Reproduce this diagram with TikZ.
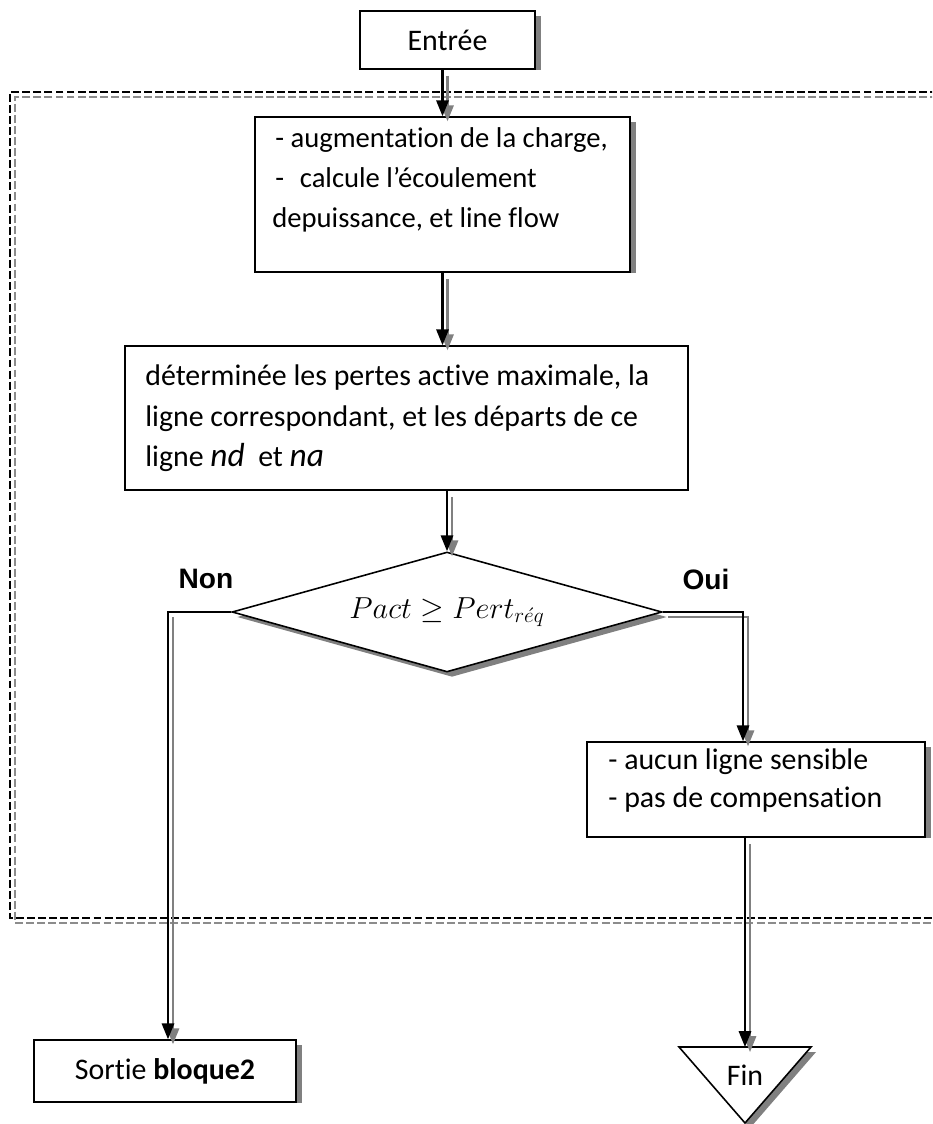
\documentclass[tikz,border=0pt]{standalone}
\usepackage{fontspec}
\setmainfont{Carlito}[Ligatures=NoCommon]
\newfontfamily\labelfont{Liberation Sans}
\usetikzlibrary{arrows.meta,shapes.geometric,shadows,calc}

\begin{document}
\begin{tikzpicture}[x=0.02cm,y=-0.02cm,
  box/.style={draw, line width=0.9pt, fill=white, inner sep=0pt, rectangle},
  body/.style={font=\fontsize{17}{22}\selectfont},
  line/.style={body, inner sep=0pt, anchor=base west},
  smallline/.style={line, font=\fontsize{16.3}{22}\selectfont},
  link/.style={line width=1.2pt, black, -{Triangle[length=9pt,width=7pt]}},
  linkshadow/.style={line width=1.2pt, black!50, -{Triangle[length=9pt,width=7pt]}},
  frame/.style={line width=1.3pt, dash pattern=on 4.5pt off 1.8pt},
  shade/.style={fill=black!50},
  answer/.style={font=\labelfont\bfseries\fontsize{16}{19}\selectfont}]

\useasboundingbox (0,0) rectangle (932,1124);

% dashed frame of the loop (runs off the right edge)
\begin{scope}
  \clip (0,0) rectangle (932,1124);
  \draw[frame, black] (960,92) -- (10,92) -- (10,918) -- (960,918);
  \draw[frame, black!45] (960,97) -- (15,97) -- (15,923) -- (960,923);
\end{scope}

% boxes
\node[box, body, minimum width=3.5cm, minimum height=1.16cm] (e) at (447.5,40) {Entrée};
\fill[shade] ($(e.north east)+(0,6)$) rectangle ($(e.south east)+(5,0)$);

\node[box, minimum width=7.5cm, minimum height=3.1cm] (b2) at (442.5,194.5) {};
\fill[shade] ($(b2.north east)+(0,6)$) rectangle ($(b2.south east)+(5,0)$);
\node[smallline] (b2a) at (275,148) {- augmentation de la charge,};
\node[smallline] (b2b) at (275,188) {-\hspace{0.55em}calcule l’écoulement};
\node[smallline] (b2c) at (272,228) {depuissance, et line flow};

\node[box, minimum width=11.26cm, minimum height=2.88cm] (b3) at (406.5,418) {};
\node[line] (b3a) at (145,386) {déterminée les pertes active maximale, la};
\node[line] (b3b) at (145,426) {ligne correspondant, et les départs de ce};
\node[line] (b3c) at (145,466) {ligne {\fontsize{19}{22}\selectfont\itshape nd}\ \ et {\fontsize{19}{22}\selectfont\itshape na}};

% decision
\node[diamond, draw, line width=0.9pt, fill=white, aspect=3.5, inner sep=0pt,
      minimum width=8.6cm, minimum height=2.4cm,
      general shadow={fill=black!50, shadow xshift=0.1cm, shadow yshift=-0.1cm},
      font=\fontsize{17}{20}\selectfont] (d) at (447,612) {$Pact \geq Pert_{r\acute{e}q}$};
\node[answer] (non) at (206,579) {Non};
\node[answer] (oui) at (706,579) {Oui};

\node[box, minimum width=6.76cm, minimum height=1.9cm] (b4) at (756,789.5) {};
\fill[shade] ($(b4.north east)+(0,6)$) rectangle ($(b4.south east)+(5,0)$);
\node[line] (b4a) at (608,769) {- aucun ligne sensible};
\node[line] (b4b) at (608,807) {- pas de compensation};

\node[box, body, minimum width=5.24cm, minimum height=1.24cm] (s) at (165,1071) {Sortie \textbf{bloque2}};
\fill[shade] ($(s.north east)+(0,6)$) rectangle ($(s.south east)+(5,0)$);

% end marker
\coordinate (fintop) at (745,1047);
\fill[shade] (684,1052) -- (816,1052) -- (750,1128) -- cycle;
\draw[line width=0.9pt, fill=white] (679,1047) -- (811,1047) -- (745,1123) -- cycle;
\node[body, inner sep=0pt] (fin) at (745,1075) {Fin};

% connectors: grey offset copy first, black on top
\draw[linkshadow] ($(e.south -| b2.north)+(5,6)$) -- ($(b2.north)+(5,5)$);
\draw[link] (e.south -| b2.north) -- (b2.north);

\draw[linkshadow] ($(b2.south)+(5,6)$) -- ($(b2.south |- b3.north)+(5,5)$);
\draw[link] (b2.south) -- (b2.south |- b3.north);

\draw[linkshadow] ($(b3.south -| d.north)+(5,6)$) -- ($(d.north)+(5,5)$);
\draw[link] (b3.south -| d.north) -- (d.north);

\draw[linkshadow] ($(d.west -| s.north)+(8,5)$) -- ($(s.north)+(8,5)$);
\draw[link] (d.west) -| ($(s.north)+(3,0)$);

\draw[linkshadow] ($(d.east)+(5,5)$) -| ($(b4.north)+(-8,5)$);
\draw[link] (d.east) -| ($(b4.north)+(-13,0)$);

\draw[linkshadow] ($(b4.south)+(-6,6)$) -- ($(fintop)+(5,5)$);
\draw[link] ($(b4.south)+(-11,0)$) -- (fintop);

\end{tikzpicture}
\end{document}
